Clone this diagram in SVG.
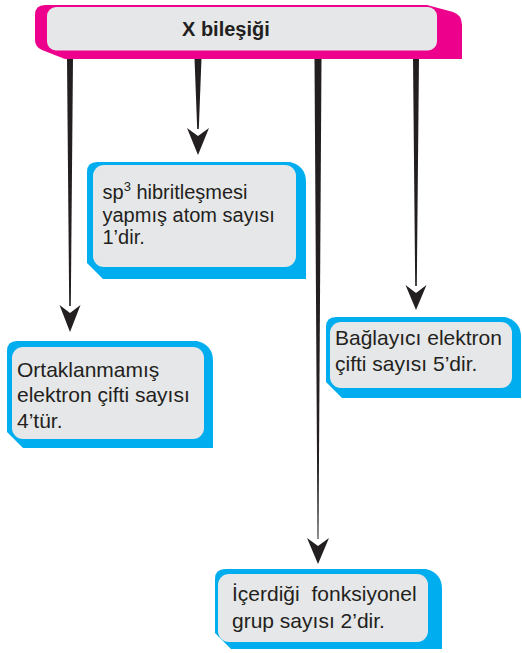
<svg xmlns="http://www.w3.org/2000/svg" width="522" height="653" viewBox="0 0 522 653">
<style>
.pink{fill:#EC008C}
.blue{fill:#00AEEF}
.gray{fill:#E6E7E8}
.ln{fill:#231F20}
.t{font-family:"Liberation Sans",Arial,Helvetica,sans-serif;fill:#231F20}
.h{font-weight:bold;font-size:20px}
</style>
<rect width="522" height="653" fill="#fff"/>
<g id="connectors">
<polygon class="ln" points="67,58 73,58 70.8,306 69.2,306"/>
<polygon class="ln" points="59.5,305 70,313 80.5,305 70,332"/>
<polygon class="ln" points="194.5,58 201.5,58 198.8,129 197.2,129"/>
<polygon class="ln" points="187,128 198,136 209,128 198,155"/>
<polygon class="ln" points="314.5,58 321.5,58 318.5,539 317.5,539"/>
<polygon class="ln" points="307,538 318,546 329,538 318,564"/>
<polygon class="ln" points="413,58 419,58 416.8,286 415.2,286"/>
<polygon class="ln" points="405.5,285 416,293 426.5,285 416,310"/>
</g>
<g id="header">
<path class="pink" d="M35,15 Q35,5 45,5 L427,5 L453,12 Q462,15 462,25 L462,59 L65,59 L42,50 Q35,47 35,40 Z"/>
<rect class="gray" x="47" y="7" width="390" height="43.5" rx="9"/>
<text class="t h" x="182" y="36">X bileşiği</text>
</g>
<g id="node-sp3">
<path class="blue" d="M87,172 Q87,162 97,162 L290,162 Q306,166 306,182 L306,279 L103,279 L87,263 Z"/>
<rect class="gray" x="93" y="165" width="203" height="102" rx="11"/>
<text class="t" font-size="20" x="102.5" y="199">sp<tspan font-size="13" dy="-8">3</tspan><tspan dy="8"> hibritleşmesi</tspan></text>
<text class="t" font-size="20" x="102.5" y="221.5">yapmış atom sayısı</text>
<text class="t" font-size="20" x="102.5" y="244">1’dir.</text>
</g>
<g id="node-ortak">
<path class="blue" d="M7,351 Q7,341 17,341 L197,341 Q213,345 213,361 L213,448 L23,448 L7,432 Z"/>
<rect class="gray" x="12" y="347" width="192" height="92" rx="11"/>
<text class="t" font-size="21" x="17" y="376.5">Ortaklanmamış</text>
<text class="t" font-size="21" x="17" y="402">elektron çifti sayısı</text>
<text class="t" font-size="21" x="17" y="428">4’tür.</text>
</g>
<g id="node-bag">
<path class="blue" d="M326,327 Q326,317 336,317 L505,317 Q521,321 521,337 L521,398 L342,398 L326,382 Z"/>
<rect class="gray" x="330" y="322" width="182" height="66" rx="11"/>
<text class="t" font-size="21" x="335" y="345">Bağlayıcı elektron</text>
<text class="t" font-size="21" x="335" y="371">çifti sayısı 5’dir.</text>
</g>
<g id="node-icer">
<path class="blue" d="M215,579 Q215,569 225,569 L426,569 Q442,573 442,589 L442,649 L231,649 L215,633 Z"/>
<rect class="gray" x="218" y="574" width="210" height="68" rx="11"/>
<text class="t" font-size="21" x="232" y="601" word-spacing="6">İçerdiği fonksiyonel</text>
<text class="t" font-size="21" x="232" y="628">grup sayısı 2’dir.</text>
</g>
</svg>
